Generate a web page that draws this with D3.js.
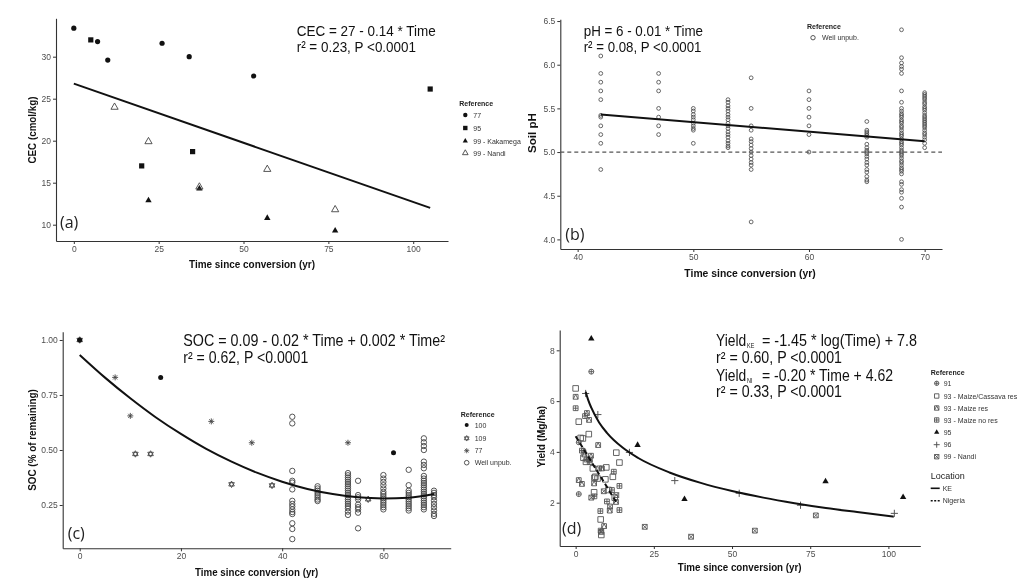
<!DOCTYPE html>
<html>
<head>
<meta charset="utf-8">
<script src="https://d3js.org/d3.v7.min.js"></script>
<style>
body { margin: 0; background: #fff; }
svg { will-change: transform; }
text { font-family: "Liberation Sans", Arial, sans-serif; }
</style>
</head>
<body>
<svg id="fig" width="1024" height="587"></svg>
<script>
// ---------- (a) CEC ----------
const cecTime77 = [0, 7, 10, 26, 34, 53];
const cec77 = [33.4, 31.8, 29.6, 31.6, 30.0, 27.7];
const cecTime95 = [5, 20, 35, 105];
const cec95 = [32.0, 17.0, 18.7, 26.15];
const cecTimeKak = [22, 37, 57, 77];
const cecKak = [12.9, 14.3, 10.8, 9.3];
const cecTimeNandi = [12, 22, 37, 57, 77];
const cecNandi = [24.0, 19.9, 14.5, 16.6, 11.8];
const cecFitTime = [0, 105];
const cecFit = [26.8, 12.0];
const cecTicksX = [0, 25, 50, 75, 100];
const cecTicksY = [10, 15, 20, 25, 30];

// ---------- (b) soil pH (Weil unpub.) ----------
const phTimes = [42, 47, 50, 53, 55, 60, 65, 68, 70];
const ph42 = [6.1, 5.9, 5.8, 5.7, 5.6, 5.42, 5.4, 5.3, 5.2, 5.1, 4.8];
const ph47 = [5.9, 5.8, 5.7, 5.5, 5.4, 5.3, 5.2];
const ph50 = [5.5, 5.47, 5.43, 5.4, 5.37, 5.33, 5.3, 5.27, 5.25, 5.1];
const ph53 = [5.6, 5.57, 5.53, 5.5, 5.47, 5.43, 5.4, 5.37, 5.33, 5.3, 5.27, 5.23, 5.2, 5.17, 5.13, 5.1, 5.07, 5.05];
const ph55 = [5.85, 5.5, 5.3, 5.25, 5.15, 5.12, 5.08, 5.04, 5.0, 4.96, 4.92, 4.88, 4.85, 4.8, 4.2];
const ph60 = [5.7, 5.6, 5.5, 5.4, 5.3, 5.2, 5.0];
const ph65 = [5.35, 5.25, 5.23, 5.21, 5.19, 5.17, 5.09, 5.05, 5.02, 5.0, 4.98, 4.95, 4.92, 4.88, 4.85, 4.8, 4.77, 4.72, 4.68, 4.66];
const ph68 = [6.4, 6.08, 6.02, 5.98, 5.95, 5.9, 5.7, 5.57, 5.5, 5.47, 5.44, 5.42, 5.4, 5.37, 5.35, 5.33, 5.3, 5.28, 5.25, 5.22, 5.2, 5.18, 5.15, 5.12, 5.1, 5.08, 5.05, 5.02, 5.0, 4.98, 4.96, 4.93, 4.9, 4.88, 4.85, 4.82, 4.8, 4.78, 4.75, 4.66, 4.63, 4.57, 4.54, 4.47, 4.37, 4.0];
const ph70 = [5.68, 5.66, 5.64, 5.62, 5.6, 5.57, 5.55, 5.52, 5.5, 5.48, 5.45, 5.42, 5.4, 5.38, 5.36, 5.34, 5.32, 5.3, 5.28, 5.25, 5.22, 5.2, 5.17, 5.14, 5.1, 5.05];
const phFitTime = [42, 70];
const phFit = [5.43, 5.125];
const phThreshold = 5.0;
const phTicksX = [40, 50, 60, 70];
const phTicksY = [4.0, 4.5, 5.0, 5.5, 6.0, 6.5];

// ---------- (c) SOC ----------
const socTime100 = [0, 16, 62];
const soc100 = [1.0, 0.829, 0.488];
const socTime109 = [0, 11, 14, 30, 38, 57];
const soc109 = [1.0, 0.482, 0.482, 0.344, 0.339, 0.276];
const socTime77 = [7, 10, 26, 34, 53];
const soc77 = [0.83, 0.655, 0.63, 0.533, 0.533];
const socWeilTimes = [42, 47, 53, 55, 60, 65, 68, 70];
const soc42 = [0.651, 0.621, 0.405, 0.36, 0.352, 0.321, 0.269, 0.255, 0.243, 0.23, 0.218, 0.209, 0.167, 0.141, 0.095];
const soc47 = [0.335, 0.325, 0.315, 0.305, 0.295, 0.285, 0.275, 0.268];
const soc53 = [0.395, 0.385, 0.375, 0.365, 0.355, 0.345, 0.335, 0.325, 0.315, 0.305, 0.295, 0.285, 0.275, 0.265, 0.255, 0.245, 0.235, 0.22, 0.205];
const soc55 = [0.36, 0.295, 0.285, 0.275, 0.252, 0.24, 0.23, 0.215, 0.144];
const soc60 = [0.386, 0.37, 0.355, 0.34, 0.325, 0.31, 0.3, 0.29, 0.28, 0.27, 0.26, 0.25, 0.24, 0.23];
const soc65 = [0.41, 0.34, 0.315, 0.305, 0.295, 0.285, 0.275, 0.265, 0.255, 0.245, 0.235, 0.225];
const soc68 = [0.553, 0.535, 0.518, 0.5, 0.447, 0.432, 0.417, 0.382, 0.37, 0.36, 0.35, 0.34, 0.33, 0.32, 0.31, 0.3, 0.29, 0.28, 0.27, 0.26, 0.25, 0.24, 0.23];
const soc70 = [0.315, 0.305, 0.295, 0.285, 0.27, 0.255, 0.24, 0.225, 0.21, 0.2];
const socFitTime = [0, 5, 10, 15, 20, 25, 30, 35, 40, 45, 50, 55, 60, 65, 70];
const socFit = [0.932, 0.829, 0.735, 0.649, 0.573, 0.505, 0.447, 0.397, 0.356, 0.323, 0.300, 0.285, 0.280, 0.283, 0.30];
const socTicksX = [0, 20, 40, 60];
const socTicksY = [0.25, 0.5, 0.75, 1.0];

// ---------- (d) Yield ----------
const yldTime91 = [5, 1, 1, 2.5];
const yld91 = [7.16, 2.34, 4.38, 4.05];
const yldTimeMC = [0, 1, 2.3, 4.2, 1.6, 2.5, 3.3, 5.5, 6.3, 9.5, 9.8, 11.9, 13, 14, 5.9, 8, 8.2, 12.5, 7, 10.5, 6];
const yldMC = [6.5, 5.19, 4.53, 4.7, 4.55, 3.77, 3.61, 3.35, 3.02, 2.92, 3.39, 3.02, 3.97, 3.58, 2.41, 1.34, 0.73, 2.2, 2.95, 2.5, 2.98];
const yldTimeRes = [0, 3.6, 4.3, 7.2, 4.9, 1, 2, 8.4, 5.9, 10.9, 12.9, 9.1, 2.8];
const yldRes = [6.17, 5.53, 5.26, 4.27, 3.85, 2.89, 2.74, 3.35, 2.76, 1.69, 2.03, 1.08, 3.9];
const yldTimeNoRes = [0, 3, 2, 3.5, 7.9, 11.6, 14, 14, 12.2, 10, 6, 8, 4.5];
const yldNoRes = [5.72, 5.41, 4.05, 3.7, 1.67, 2.5, 2.66, 1.71, 3.22, 2.05, 2.25, 0.9, 3.6];
const yldTime95 = [5, 19.8, 34.8, 79.9, 104.7];
const yld95 = [8.46, 4.27, 2.14, 2.84, 2.22];
const yldTime96 = [3.2, 7.1, 17.2, 31.7, 52.3, 71.9, 101.9];
const yld96 = [6.3, 5.47, 3.98, 2.87, 2.37, 1.9, 1.58];
const yldTimeNandi = [22.1, 36.9, 57.3, 76.8, 5, 9, 11, 13, 8.2, 4.5, 7.5];
const yldNandi = [1.05, 0.66, 0.9, 1.5, 2.2, 2.45, 1.85, 2.3, 0.85, 3.7, 3.35];
const yldFitTime = [3.2, 4, 5, 7.5, 10, 15, 20, 30, 40, 50, 60, 70, 80, 90, 101.7];
const yldFit = [6.37, 6.05, 5.74, 5.16, 4.75, 4.17, 3.76, 3.19, 2.78, 2.46, 2.20, 1.98, 1.79, 1.63, 1.45];
const yldNiTime = [0, 13];
const yldNi = [4.62, 2.02];
const yldTicksX = [0, 25, 50, 75, 100];
const yldTicksY = [2, 4, 6, 8];

const svg = d3.select("#fig");
const INK = "#111", GREY = "#4d4d4d", OPEN = "#444";

// marker outlines centred on 0,0 (s = half size)
function shapePath(shape, s) {
  const circ = r => `M${r},0A${r},${r} 0 1 1 ${-r},0A${r},${r} 0 1 1 ${r},0Z`;
  const sq = `M${-s},${-s}H${s}V${s}H${-s}Z`;
  const plus = `M${-s},0H${s}M0,${-s}V${s}`;
  const cross = `M${-s},${-s}L${s},${s}M${-s},${s}L${s},${-s}`;
  const triUp = k => `M0,${-1.15 * s * k}L${s * k},${0.6 * s * k}L${-s * k},${0.6 * s * k}Z`;
  const triDn = k => `M0,${1.15 * s * k}L${s * k},${-0.6 * s * k}L${-s * k},${-0.6 * s * k}Z`;
  switch (shape) {
    case "circle": return circ(s);
    case "square": return sq;
    case "triangle": return triUp(1);
    case "plus": return plus;
    case "circleplus": return circ(s) + plus;
    case "squarecross": return sq + cross;
    case "squareplus": return sq + plus;
    case "squaretri": return sq + `M${-s},${s}L0,${-s}L${s},${s}`;
    case "hexagram": return triUp(1) + triDn(1);
    case "asterisk": return plus + `M${-s * 0.7},${-s * 0.7}L${s * 0.7},${s * 0.7}M${-s * 0.7},${s * 0.7}L${s * 0.7},${-s * 0.7}`;
  }
}

function styleOf(kind, s) {
  return kind === "filled" ? { s, fill: INK, stroke: "none", sw: 0 }
                           : { s, fill: "none", stroke: OPEN, sw: 0.9 };
}

function makePanel(p) {
  const x = d3.scaleLinear().domain(p.xDomain).range([p.left, p.right]);
  const y = d3.scaleLinear().domain(p.yDomain).range([p.bottom, p.top]);
  const g = svg.append("g");
  const xa = g.append("g").attr("transform", `translate(0,${p.bottom})`)
    .call(d3.axisBottom(x).tickValues(p.xTicks).tickSize(3).tickSizeOuter(0).tickPadding(2).tickFormat(p.xFormat));
  const ya = g.append("g").attr("transform", `translate(${p.left},0)`)
    .call(d3.axisLeft(y).tickValues(p.yTicks).tickSize(3).tickSizeOuter(0).tickPadding(2).tickFormat(p.yFormat));
  [xa, ya].forEach(a => {
    a.select(".domain").attr("stroke", "#333").attr("stroke-width", 1.1);
    a.selectAll(".tick line").attr("stroke", "#333");
    a.selectAll(".tick text").attr("fill", GREY)
      .style("font-size", "8.5px").style("font-family", '"Liberation Sans", Arial, sans-serif');
  });
  return { g, x, y };
}

function points(P, xs, ys, shape, st) {
  P.g.append("g").selectAll("path").data(d3.zip(xs, ys)).join("path")
    .attr("transform", d => `translate(${P.x(d[0])},${P.y(d[1])})`)
    .attr("d", shapePath(shape, st.s))
    .attr("fill", st.fill).attr("stroke", st.stroke).attr("stroke-width", st.sw);
}

function column(P, t, vals, shape, st) {
  points(P, vals.map(() => t), vals, shape, st);
}

function fitLine(P, xs, ys, curve, dash) {
  const line = d3.line().x(d => P.x(d[0])).y(d => P.y(d[1])).curve(curve || d3.curveLinear);
  P.g.append("path").datum(d3.zip(xs, ys)).attr("d", line)
    .attr("fill", "none").attr("stroke", INK).attr("stroke-width", 2)
    .attr("stroke-dasharray", dash || null);
}

function txt(x, y, str, size, width, o = {}) {
  const t = svg.append("text").attr("x", x).attr("y", y)
    .style("font-size", size + "px").attr("fill", o.fill || INK)
    .style("font-weight", o.bold ? "bold" : null)
    .attr("text-anchor", o.anchor || "start")
    .text(str);
  if (o.family) t.style("font-family", o.family);
  if (width) t.attr("textLength", width).attr("lengthAdjust", "spacingAndGlyphs");
  return t;
}

// "Yield" with its subscript in one (horizontally narrowed) text, then the rest
function subEq(y, sub, rest, restWidth) {
  const t = svg.append("text")
    .attr("transform", `translate(716,${y}) scale(0.84,1)`)
    .style("font-size", "16.5px").attr("fill", INK);
  t.append("tspan").text("Yield");
  t.append("tspan").attr("dx", 1).attr("dy", 2).style("font-size", "6.5px").text(sub);
  txt(762, y, rest, 16.5, restWidth);
}

function xTitle(cx, by, str, w) {
  txt(cx, by, str, 10, w, { bold: true, anchor: "middle" });
}
function yTitle(bx, cy, str, w) {
  txt(0, 0, str, 10, w, { bold: true, anchor: "middle" })
    .attr("transform", `translate(${bx},${cy}) rotate(-90)`);
}
function panelTag(x, y, str) {
  txt(x, y, str, 16, null, { family: '"Open Sans", "Noto Sans", sans-serif', fill: "#222" });
}

function legend(x0, title, titleY, items) {
  if (title) txt(x0, titleY, title, 7, null, { bold: true, fill: "#222" });
  items.forEach(it => {
    const g = svg.append("g").attr("transform", `translate(${x0 + 6},${it.y})`);
    if (it.line) {
      g.append("line").attr("x1", -6).attr("x2", 3).attr("stroke", INK).attr("stroke-width", 1.6)
        .attr("stroke-dasharray", it.line === "dash" ? "2,1.5" : null);
    } else {
      g.append("path").attr("d", shapePath(it.shape, it.st.s))
        .attr("fill", it.st.fill).attr("stroke", it.st.stroke).attr("stroke-width", it.st.sw);
    }
    txt(x0 + (it.dx || 14), it.y + 2.5, it.label, 7, null, { fill: "#333" });
  });
}

// ================= (a) =================
const A = makePanel({ left: 56, right: 448, top: 18.3, bottom: 241,
  xDomain: [-5.25, 110.25], yDomain: [8.06, 34.57],
  xTicks: cecTicksX, yTicks: cecTicksY, xFormat: d3.format("d"), yFormat: d3.format("d") });
points(A, cecTime77, cec77, "circle", styleOf("filled", 2.6));
points(A, cecTime95, cec95, "square", styleOf("filled", 2.6));
points(A, cecTimeKak, cecKak, "triangle", styleOf("filled", 3.2));
points(A, cecTimeNandi, cecNandi, "triangle", styleOf("open", 3.6));
fitLine(A, cecFitTime, cecFit);
txt(296.7, 36, "CEC = 27 - 0.14 * Time", 15.5, 139);
txt(296.7, 51.7, "r² = 0.23, P <0.0001", 15.5, 119.3);
panelTag(60, 228, "(a)");
xTitle(252, 268, "Time since conversion (yr)", 126);
yTitle(35.5, 130, "CEC (cmol/kg)", 67);
legend(459.3, "Reference", 106, [
  { y: 115, shape: "circle", st: styleOf("filled", 2.2), label: "77" },
  { y: 128, shape: "square", st: styleOf("filled", 2.2), label: "95" },
  { y: 141, shape: "triangle", st: styleOf("filled", 2.6), label: "99 - Kakamega" },
  { y: 153, shape: "triangle", st: styleOf("open", 2.8), label: "99 - Nandi" }
]);

// ================= (b) =================
const B = makePanel({ left: 560.3, right: 942, top: 19.3, bottom: 249,
  xDomain: [38.5, 71.5], yDomain: [3.89, 6.52],
  xTicks: phTicksX, yTicks: phTicksY, xFormat: d3.format("d"), yFormat: d3.format(".1f") });
[ph42, ph47, ph50, ph53, ph55, ph60, ph65, ph68, ph70].forEach((vals, i) =>
  column(B, phTimes[i], vals, "circle", { s: 1.9, fill: "none", stroke: OPEN, sw: 0.8 }));
B.g.append("line")
  .attr("x1", B.x.range()[0]).attr("x2", B.x.range()[1])
  .attr("y1", B.y(phThreshold)).attr("y2", B.y(phThreshold))
  .attr("stroke", "#555").attr("stroke-width", 1.3).attr("stroke-dasharray", "4,3");
fitLine(B, phFitTime, phFit);
txt(583.7, 36, "pH = 6 - 0.01 * Time", 15.5, 119.3);
txt(583.7, 51.7, "r² = 0.08, P <0.0001", 15.5, 117.7);
panelTag(565.3, 240, "(b)");
xTitle(750, 276.7, "Time since conversion (yr)", 131.3);
yTitle(536.2, 133, "Soil pH", 40);
legend(807, "Reference", 29, [
  { y: 37.7, shape: "circle", st: { s: 2.2, fill: "none", stroke: OPEN, sw: 0.9 }, label: "Weil unpub.", dx: 15 }
]);

// ================= (c) =================
const C = makePanel({ left: 62.7, right: 450.7, top: 331.7, bottom: 548.3,
  xDomain: [-3.36, 73.3], yDomain: [0.0532, 1.0377],
  xTicks: socTicksX, yTicks: socTicksY, xFormat: d3.format("d"), yFormat: d3.format(".2f") });
[soc42, soc47, soc53, soc55, soc60, soc65, soc68, soc70].forEach((vals, i) =>
  column(C, socWeilTimes[i], vals, "circle", { s: 2.7, fill: "none", stroke: OPEN, sw: 0.9 }));
points(C, socTime109, soc109, "hexagram", { s: 2.8, fill: "none", stroke: OPEN, sw: 0.9 });
points(C, socTime77, soc77, "asterisk", { s: 3, fill: "none", stroke: OPEN, sw: 0.9 });
points(C, socTime100, soc100, "circle", styleOf("filled", 2.5));
fitLine(C, socFitTime, socFit, d3.curveMonotoneX);
txt(183.3, 346, "SOC = 0.09 - 0.02 * Time + 0.002 * Time²", 16.5, 261.7);
txt(183.3, 362.7, "r² = 0.62, P <0.0001", 16.5, 125);
panelTag(67.7, 539.3, "(c)");
xTitle(256.7, 576, "Time since conversion (yr)", 123.3);
yTitle(35.8, 440, "SOC (% of remaining)", 101.7);
legend(460.7, "Reference", 416.7, [
  { y: 425, shape: "circle", st: styleOf("filled", 2), label: "100" },
  { y: 438.3, shape: "hexagram", st: { s: 2.4, fill: "none", stroke: OPEN, sw: 0.8 }, label: "109" },
  { y: 450.7, shape: "asterisk", st: { s: 2.6, fill: "none", stroke: OPEN, sw: 0.8 }, label: "77" },
  { y: 462.7, shape: "circle", st: { s: 2.3, fill: "none", stroke: OPEN, sw: 0.9 }, label: "Weil unpub." }
]);

// ================= (d) =================
const D = makePanel({ left: 559.7, right: 920.3, top: 330, bottom: 546,
  xDomain: [-5.1, 110.2], yDomain: [0.295, 8.8],
  xTicks: yldTicksX, yTicks: yldTicksY, xFormat: d3.format("d"), yFormat: d3.format("d") });
const openD = s => ({ s, fill: "none", stroke: "#555", sw: 0.9 });
points(D, yldTimeMC, yldMC, "square", openD(2.8));
points(D, yldTimeRes, yldRes, "squaretri", openD(2.4));
points(D, yldTimeNoRes, yldNoRes, "squareplus", openD(2.4));
points(D, yldTimeNandi, yldNandi, "squarecross", openD(2.4));
points(D, yldTime91, yld91, "circleplus", openD(2.5));
points(D, yldTime96, yld96, "plus", { s: 3.6, fill: "none", stroke: "#555", sw: 1 });
points(D, yldTime95, yld95, "triangle", styleOf("filled", 3.2));
fitLine(D, yldNiTime, yldNi, null, "5,3");
fitLine(D, yldFitTime, yldFit, d3.curveMonotoneX);
subEq(346, "KE", "= -1.45 * log(Time) + 7.8", 155);
txt(716, 363.3, "r² = 0.60, P <0.0001", 16.5, 126);
subEq(380.7, "NI", "= -0.20 * Time + 4.62", 131);
txt(716, 397.3, "r² = 0.33, P <0.0001", 16.5, 126);
panelTag(562, 534.3, "(d)");
xTitle(739.7, 571, "Time since conversion (yr)", 123.7);
yTitle(544.8, 436.7, "Yield (Mg/ha)", 61.7);
legend(930.7, "Reference", 374.5, [
  { y: 383.3, shape: "circleplus", st: openD(2.2), label: "91", dx: 13 },
  { y: 396, shape: "square", st: openD(2.2), label: "93 - Maize/Cassava res", dx: 13 },
  { y: 408, shape: "squaretri", st: openD(2.2), label: "93 - Maize res", dx: 13 },
  { y: 420, shape: "squareplus", st: openD(2.2), label: "93 - Maize no res", dx: 13 },
  { y: 432.3, shape: "triangle", st: styleOf("filled", 2.6), label: "95", dx: 13 },
  { y: 444.7, shape: "plus", st: { s: 3, fill: "none", stroke: "#555", sw: 1 }, label: "96", dx: 13 },
  { y: 456.7, shape: "squarecross", st: openD(2.2), label: "99 - Nandi", dx: 13 }
]);
txt(930.7, 479.3, "Location", 9, null, { fill: "#222" });
legend(930.7, null, 0, [
  { y: 488.3, line: "solid", label: "KE", dx: 12 },
  { y: 500.7, line: "dash", label: "Nigeria", dx: 12 }
]);
</script>
</body>
</html>
